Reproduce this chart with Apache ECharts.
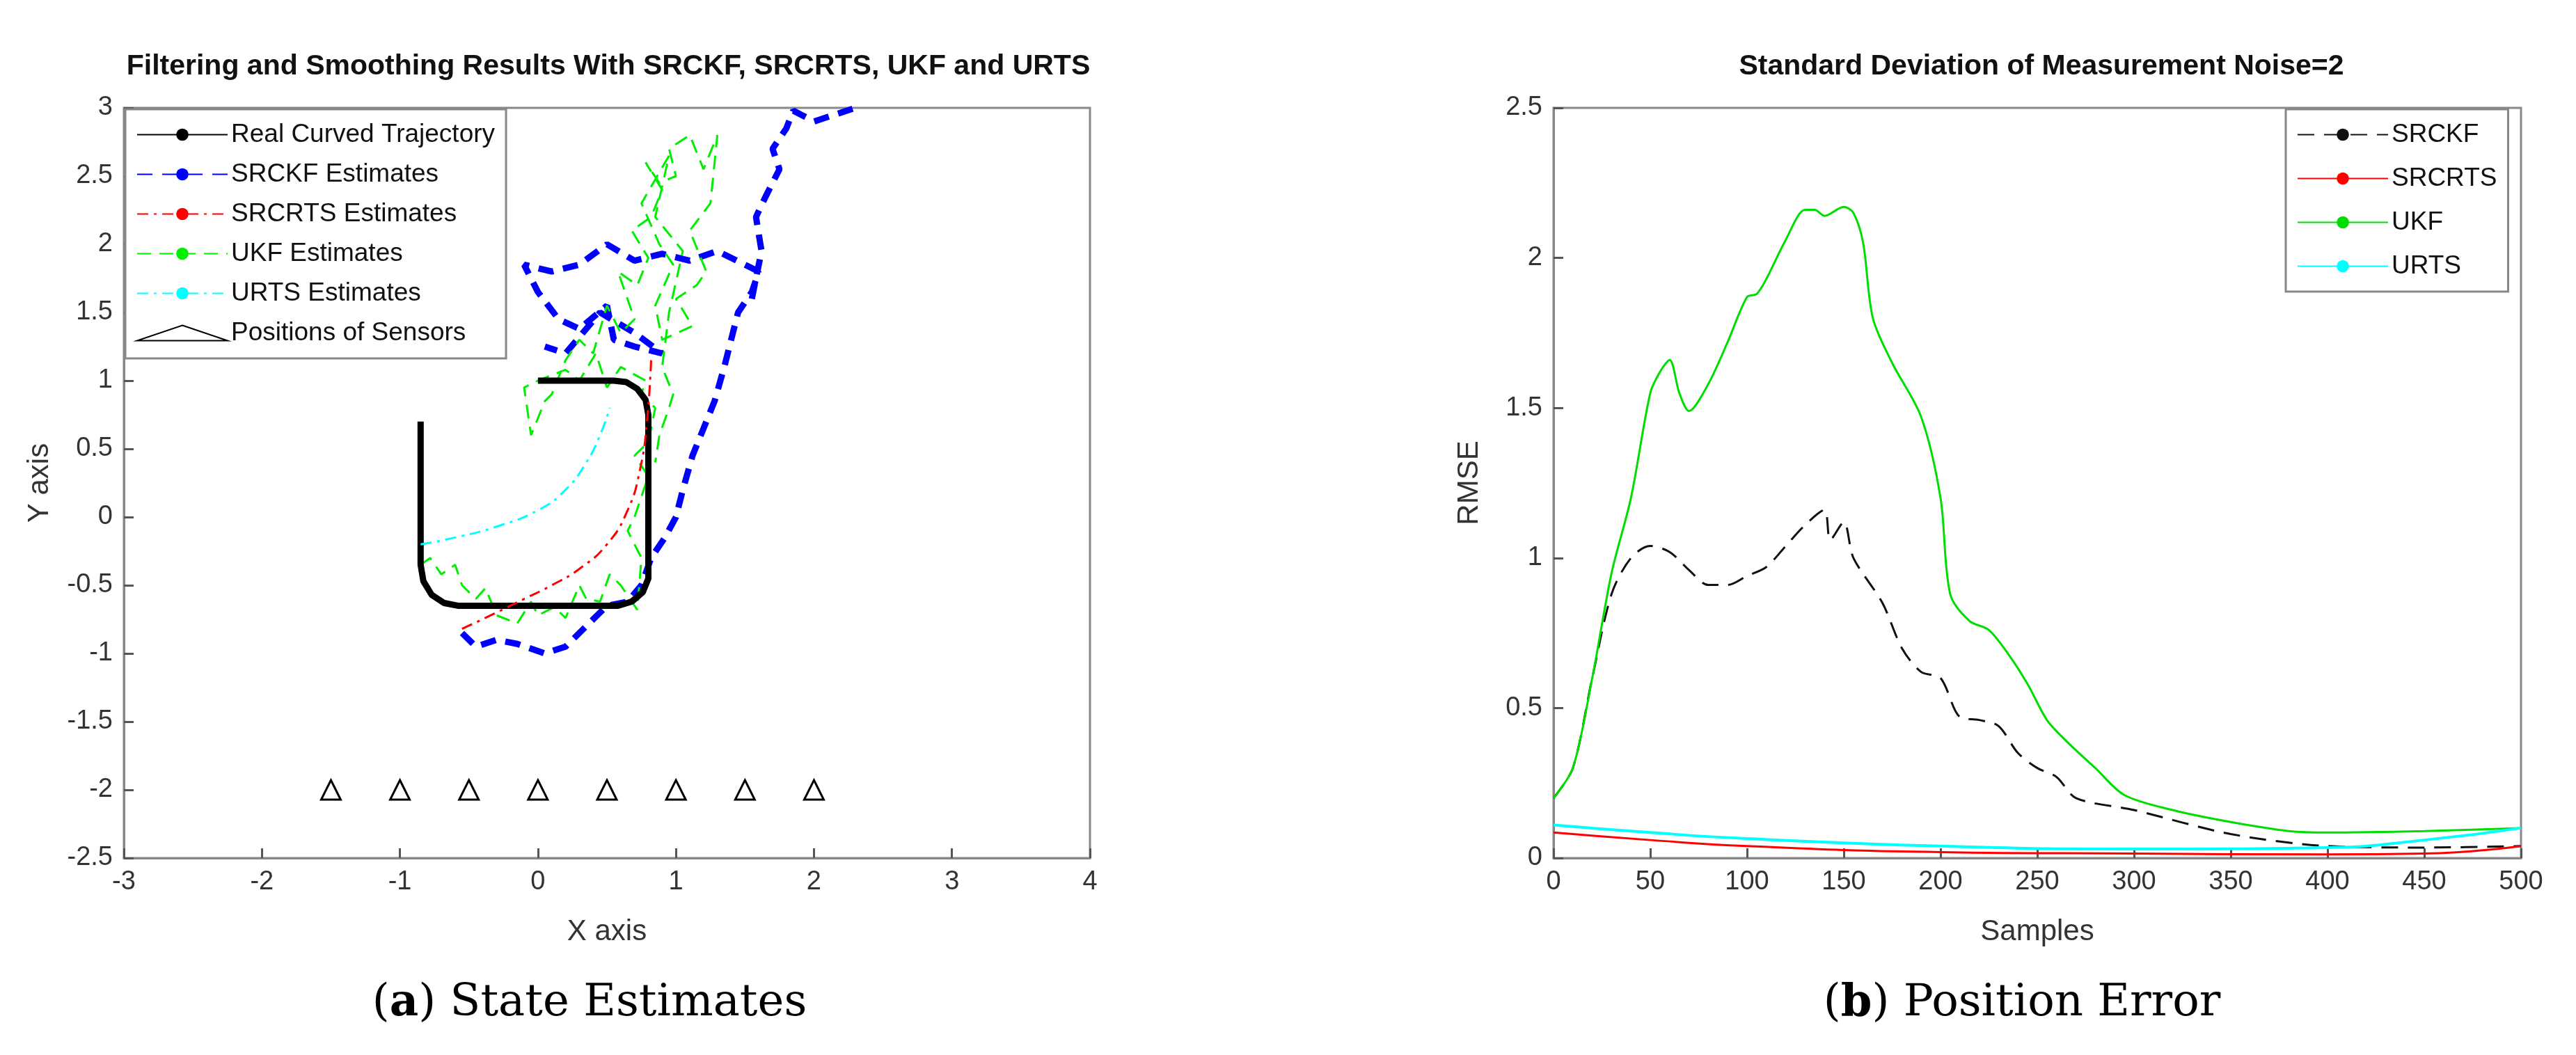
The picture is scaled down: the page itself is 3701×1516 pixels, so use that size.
<!DOCTYPE html>
<html>
<head>
<meta charset="utf-8">
<script src="https://cdn.jsdelivr.net/npm/echarts@6/dist/echarts.min.js"></script>
<style>
  html, body { margin: 0; padding: 0; background: #fff; }
  #chart { width: 3701px; height: 1516px; }
</style>
</head>
<body>
<div id="chart"></div>
<script>
// ---- panel (a): state estimates ----
var realTrajectory = [[-0.85,0.7],[-0.85,-0.35],[-0.83,-0.47],[-0.77,-0.57],[-0.68,-0.63],[-0.58,-0.65],[0.58,-0.65],[0.68,-0.62],[0.76,-0.55],[0.8,-0.45],[0.8,0.75],[0.78,0.86],[0.72,0.94],[0.64,0.99],[0.55,1.0],[0,1.0]];
var srckfEst = [[-0.55,-0.85],[-0.45,-0.95],[-0.3,-0.9],[-0.15,-0.93],[0.05,-1.0],[0.2,-0.95],[0.35,-0.8],[0.5,-0.65],[0.65,-0.62],[0.75,-0.5],[0.82,-0.3],[0.92,-0.15],[1.0,0.0],[1.05,0.2],[1.12,0.45],[1.2,0.65],[1.28,0.85],[1.35,1.1],[1.4,1.3],[1.45,1.5],[1.55,1.65],[1.6,1.8],[1.5,1.85],[1.3,1.95],[1.1,1.88],[0.9,1.93],[0.7,1.88],[0.5,2.0],[0.3,1.85],[0.1,1.8],[-0.1,1.85],[0.0,1.65],[0.15,1.45],[0.3,1.38],[0.5,1.55],[0.55,1.3],[0.7,1.25],[0.9,1.2],[0.7,1.35],[0.45,1.5],[0.2,1.2],[0.05,1.25],null,[1.55,1.6],[1.62,1.95],[1.58,2.2],[1.65,2.35],[1.75,2.55],[1.7,2.7],[1.8,2.85],[1.85,2.98],[2.0,2.9],[2.15,2.95],[2.3,3.0]];
var srcrtsEst = [[-0.55,-0.82],[-0.3,-0.7],[-0.1,-0.6],[0.1,-0.5],[0.3,-0.38],[0.5,-0.2],[0.65,0.05],[0.74,0.35],[0.79,0.7],[0.82,1.15]];
var ukfEst = [[-0.85,-0.35],[-0.78,-0.3],[-0.7,-0.42],[-0.6,-0.35],[-0.55,-0.5],[-0.45,-0.6],[-0.38,-0.52],[-0.3,-0.72],[-0.15,-0.78],[-0.05,-0.62],[0.0,-0.72],[0.12,-0.66],[0.2,-0.74],[0.3,-0.5],[0.35,-0.6],[0.45,-0.62],[0.52,-0.42],[0.6,-0.5],[0.72,-0.68],[0.75,-0.3],[0.65,-0.1],[0.7,0.0],[0.8,0.3],[0.7,0.45],[0.8,0.55],[0.85,0.8],[0.75,0.9],[0.78,1.0],[0.6,1.1],[0.5,0.95],[0.42,1.2],[0.3,1.0],[0.2,1.08],[0.0,1.0],[-0.1,0.95],[-0.05,0.6],[0.05,0.85],[0.1,0.9],[0.2,1.15],[0.3,1.3],[0.4,1.2],[0.5,1.55],[0.6,1.35],[0.7,1.45],[0.58,1.8],[0.72,1.7],[0.8,1.9],[0.68,2.1],[0.82,2.2],[0.9,2.4],[0.78,2.6],[0.88,2.45],[1.0,2.5],[0.95,2.7],[1.1,2.8],[1.2,2.55],[1.3,2.8],[1.25,2.3],[1.1,2.1],[1.22,1.8],[1.15,1.7],[1.0,1.6],[1.12,1.4],[0.9,1.3],[0.85,1.55],[0.98,1.85],[0.88,2.0],[0.75,2.3],[0.95,2.65],[0.85,2.2],[1.05,1.95],[0.95,1.5],[0.9,1.1],[0.98,0.9],[0.95,0.8],[0.88,0.6],[0.85,0.4]];
var urtsEst = [[-0.85,-0.2],[-0.6,-0.15],[-0.3,-0.07],[0.0,0.05],[0.2,0.2],[0.35,0.4],[0.45,0.6],[0.52,0.8]];
var sensorX = [-1.5,-1,-0.5,0,0.5,1,1.5,2];
var sensorY = -2;

// ---- panel (b): position error ----
var ukfRmse = [[0,0.2],[10,0.3],[20,0.6],[30,0.95],[40,1.2],[50,1.55],[55,1.62],[60,1.66],[65,1.55],[70,1.49],[80,1.58],[90,1.72],[100,1.87],[105,1.88],[110,1.93],[120,2.06],[130,2.16],[135,2.16],[140,2.14],[150,2.17],[155,2.15],[160,2.05],[165,1.8],[175,1.65],[190,1.47],[200,1.2],[205,0.88],[215,0.79],[225,0.76],[235,0.68],[245,0.58],[255,0.46],[265,0.39],[280,0.3],[295,0.21],[320,0.16],[350,0.12],[380,0.09],[400,0.085],[450,0.09],[500,0.1]];
var srckfRmse = [[0,0.2],[10,0.3],[20,0.6],[30,0.88],[40,1.0],[50,1.04],[60,1.02],[70,0.96],[80,0.91],[90,0.91],[100,0.94],[110,0.97],[120,1.04],[130,1.11],[140,1.16],[143,1.06],[150,1.12],[155,1.0],[170,0.85],[180,0.7],[190,0.62],[200,0.6],[210,0.47],[220,0.46],[230,0.44],[240,0.35],[250,0.3],[260,0.27],[270,0.2],[300,0.16],[350,0.08],[400,0.04],[450,0.035],[500,0.04]];
var srcrtsRmse = [[0,0.085],[50,0.06],[100,0.04],[200,0.02],[300,0.015],[400,0.012],[450,0.015],[500,0.04]];
var urtsRmse = [[0,0.11],[50,0.085],[100,0.065],[200,0.04],[300,0.03],[400,0.035],[450,0.06],[500,0.1]];

var font = 'Liberation Sans';
var axisCommon = {
  axisLine: { onZero: false, lineStyle: { color: '#888', width: 3 } },
  axisTick: { inside: true, length: 14, lineStyle: { color: '#555', width: 3 } },
  axisLabel: { color: '#333', fontSize: 38, fontFamily: font, margin: 16 },
  splitLine: { show: false },
  nameTextStyle: { color: '#333', fontSize: 42, fontFamily: font }
};
function axis(extra) { return Object.assign({}, axisCommon, extra); }

var captionStyle = { fontSize: 64, fontWeight: 'normal', fontFamily: 'DejaVu Serif', color: '#000',
  rich: { b: { fontSize: 64, fontWeight: 'bold', fontFamily: 'DejaVu Serif' }, n: { fontSize: 64, fontWeight: 'normal', fontFamily: 'DejaVu Serif' } } };

var chart = echarts.init(document.getElementById('chart'));
chart.setOption({
  animation: false,
  backgroundColor: '#fff',
  title: [
    { text: 'Filtering and Smoothing Results With SRCKF, SRCRTS, UKF and URTS', left: 869, top: 70, textAlign: 'center',
      textStyle: { fontSize: 41, fontWeight: 'bold', fontFamily: font, color: '#111' } },
    { text: 'Standard Deviation of Measurement Noise=2', left: 2928, top: 70, textAlign: 'center',
      textStyle: { fontSize: 41, fontWeight: 'bold', fontFamily: font, color: '#111' } },
    { text: '{n|(}{b|a}{n|) State Estimates}', left: 842, top: 1405, textAlign: 'center', textStyle: captionStyle },
    { text: '{n|(}{b|b}{n|) Position Error}', left: 2900, top: 1405, textAlign: 'center', textStyle: captionStyle }
  ],
  grid: [
    { left: 178, top: 155, width: 1388, height: 1078, show: true, borderColor: '#888', borderWidth: 3 },
    { left: 2232, top: 155, width: 1390, height: 1078, show: true, borderColor: '#888', borderWidth: 3 }
  ],
  legend: [
    { left: 180, top: 157, orient: 'vertical', itemGap: 20, itemWidth: 130, itemHeight: 22,
      backgroundColor: '#fff', borderColor: '#888', borderWidth: 3, padding: [18, 16, 18, 16],
      textStyle: { fontSize: 37, fontFamily: font, color: '#111' },
      data: ['Real Curved Trajectory', 'SRCKF Estimates', 'SRCRTS Estimates', 'UKF Estimates', 'URTS Estimates', 'Positions of Sensors'] },
    { left: 3284, top: 157, orient: 'vertical', itemGap: 26, itemWidth: 130, itemHeight: 22,
      backgroundColor: '#fff', borderColor: '#888', borderWidth: 3, padding: [18, 16, 18, 16],
      textStyle: { fontSize: 37, fontFamily: font, color: '#111' },
      data: ['SRCKF', 'SRCRTS', 'UKF', 'URTS'] }
  ],
  xAxis: [
    axis({ gridIndex: 0, type: 'value', min: -3, max: 4, interval: 1, name: 'X axis', nameLocation: 'middle', nameGap: 85 }),
    axis({ gridIndex: 1, type: 'value', min: 0, max: 500, interval: 50, name: 'Samples', nameLocation: 'middle', nameGap: 85 })
  ],
  yAxis: [
    axis({ gridIndex: 0, type: 'value', min: -2.5, max: 3, interval: 0.5, name: 'Y axis', nameLocation: 'middle', nameGap: 100 }),
    axis({ gridIndex: 1, type: 'value', min: 0, max: 2.5, interval: 0.5, name: 'RMSE', nameLocation: 'middle', nameGap: 100 })
  ],
  series: [
    { name: 'Real Curved Trajectory', type: 'line', xAxisIndex: 0, yAxisIndex: 0, data: realTrajectory, symbol: 'none', z: 5,
      lineStyle: { color: '#000', width: 9 }, itemStyle: { color: '#000' } },
    { name: 'SRCKF Estimates', type: 'line', xAxisIndex: 0, yAxisIndex: 0, data: srckfEst, symbol: 'none', connectNulls: false,
      lineStyle: { color: '#0000ff', width: 9, type: [22, 14] }, itemStyle: { color: '#0000ff' } },
    { name: 'SRCRTS Estimates', type: 'line', xAxisIndex: 0, yAxisIndex: 0, data: srcrtsEst, symbol: 'none', smooth: true, z: 6,
      lineStyle: { color: '#ff0000', width: 3, type: [16, 8, 4, 8] }, itemStyle: { color: '#ff0000' } },
    { name: 'UKF Estimates', type: 'line', xAxisIndex: 0, yAxisIndex: 0, data: ukfEst, symbol: 'none',
      lineStyle: { color: '#00ee00', width: 3, type: [20, 12] }, itemStyle: { color: '#00ee00' } },
    { name: 'URTS Estimates', type: 'line', xAxisIndex: 0, yAxisIndex: 0, data: urtsEst, symbol: 'none', smooth: true, z: 6,
      lineStyle: { color: '#00ffff', width: 3, type: [16, 8, 4, 8] }, itemStyle: { color: '#00ffff' } },
    { name: 'Positions of Sensors', type: 'scatter', xAxisIndex: 0, yAxisIndex: 0, symbol: 'triangle', symbolSize: 28,
      data: sensorX.map(function (x) { return [x, sensorY]; }),
      itemStyle: { color: '#fff', borderColor: '#000', borderWidth: 3, opacity: 1 } },

    { name: 'SRCKF', type: 'line', xAxisIndex: 1, yAxisIndex: 1, data: srckfRmse, symbol: 'none', smooth: 0.3,
      lineStyle: { color: '#111', width: 3, type: [24, 14] }, itemStyle: { color: '#111' } },
    { name: 'SRCRTS', type: 'line', xAxisIndex: 1, yAxisIndex: 1, data: srcrtsRmse, symbol: 'none', smooth: true,
      lineStyle: { color: '#ff0000', width: 3 }, itemStyle: { color: '#ff0000' } },
    { name: 'UKF', type: 'line', xAxisIndex: 1, yAxisIndex: 1, data: ukfRmse, symbol: 'none', smooth: 0.3,
      lineStyle: { color: '#00dd00', width: 3 }, itemStyle: { color: '#00dd00' } },
    { name: 'URTS', type: 'line', xAxisIndex: 1, yAxisIndex: 1, data: urtsRmse, symbol: 'none', smooth: true,
      lineStyle: { color: '#00ffff', width: 4 }, itemStyle: { color: '#00ffff' } }
  ]
});
</script>
</body>
</html>
